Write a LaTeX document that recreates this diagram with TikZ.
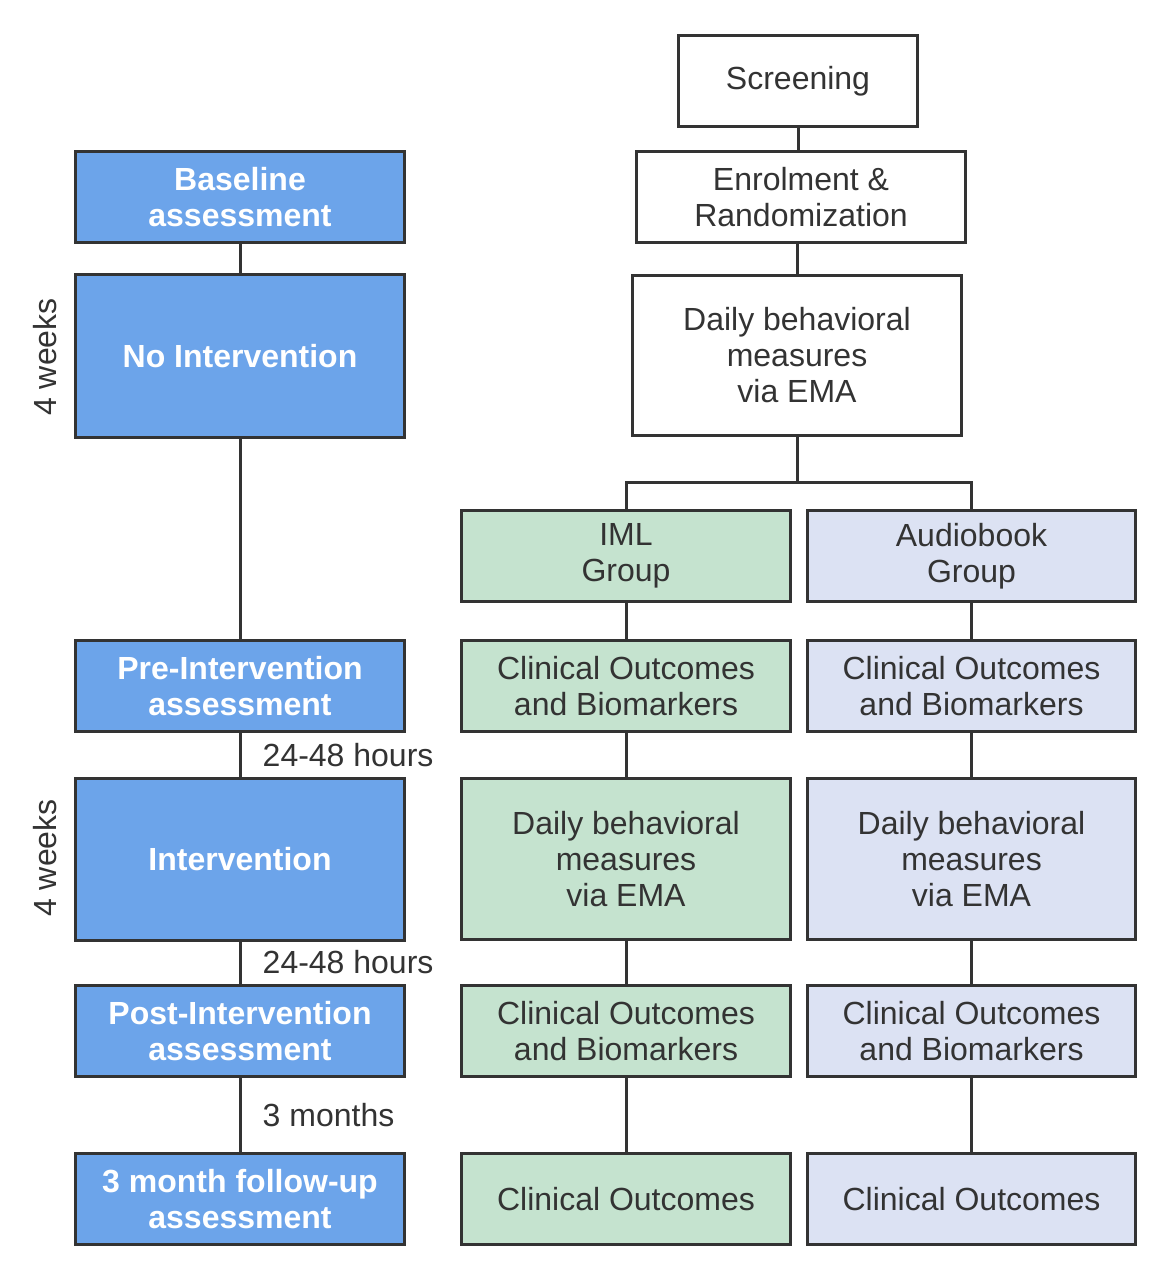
\documentclass[tikz,border=0pt]{standalone}
\usepackage{fontspec}
\setmainfont{Liberation Sans}
\usepackage{xcolor}
\definecolor{stepblue}{HTML}{6CA4EA}
\definecolor{imlgreen}{HTML}{C5E3CF}
\definecolor{audiolav}{HTML}{DCE2F3}
\definecolor{ink}{HTML}{333333}
\usepackage{tikz}
\tikzset{
  box/.style={draw=ink, line width=0.85pt, align=center, inner sep=0pt,
    minimum width=3.28cm, minimum height=0.9cm, text=ink,
    font=\fontsize{9.1}{10.25}\selectfont},
  leftbox/.style={box, fill=stepblue, text=white,
    font=\fontsize{9.1}{10.25}\selectfont\bfseries},
  gap/.style={text=ink, inner sep=0pt, font=\fontsize{9.1}{10.25}\selectfont},
  link/.style={draw=ink, line width=0.85pt}
}

\begin{document}
\begin{tikzpicture}[x=0.01cm, y=-0.01cm]
\useasboundingbox[fill=white] (0,0) rectangle (1169,1280);
% timeline on the left
\node[leftbox] (base) at (240,197) {Baseline\\assessment};
\node[leftbox, minimum height=1.62cm] (noint) at (240,356) {No Intervention};
\node[leftbox] (pre) at (240,686) {Pre-Intervention\\assessment};
\node[leftbox, minimum height=1.61cm] (interv) at (240,859.5) {Intervention};
\node[leftbox] (post) at (240,1031) {Post-Intervention\\assessment};
\node[leftbox] (follow) at (240,1199) {3 month follow-up\\assessment};
\draw[link] (base) -- (noint) -- (pre) -- (interv) -- (post) -- (follow);
\node[gap, rotate=90] (wk1) at (45,357) {4 weeks};
\node[gap, rotate=90] (wk2) at (45,858) {4 weeks};
\node[gap, anchor=west] (hrs1) at (262,755) {24-48 hours};
\node[gap, anchor=west] (hrs2) at (262,962) {24-48 hours};
\node[gap, anchor=west] (mon) at (262,1115) {3 months};
% trial flow
\node[box, minimum width=2.38cm] (screen) at (798,81) {Screening};
\node[box] (enrol) at (801,197) {Enrolment \&\\Randomization};
\node[box, minimum height=1.59cm] (emaTop) at (797,355.5) {Daily behavioral\\measures\\ via EMA};
\draw[link] (screen) -- (screen |- enrol.north);
\draw[link] (enrol.south -| emaTop) -- (emaTop);
\coordinate (split) at (797,483);
\node[box, fill=imlgreen] (iml) at (626,556) {IML\\Group};
\node[box, fill=audiolav] (audio) at (971.5,556) {Audiobook\\Group};
\draw[link] (emaTop) -- (split) -| (iml);
\draw[link] (split) -| (audio);
\foreach \g/\x/\c in {iml/626/imlgreen, audio/971.5/audiolav}{
\node[box, fill=\c] (\g co1) at (\x,686) {Clinical Outcomes\\and Biomarkers};
\node[box, fill=\c, minimum height=1.6cm] (\g ema) at (\x,859) {Daily behavioral\\measures\\ via EMA};
\node[box, fill=\c] (\g co2) at (\x,1031) {Clinical Outcomes\\and Biomarkers};
\node[box, fill=\c] (\g co3) at (\x,1199) {Clinical Outcomes};
\draw[link] (\g) -- (\g co1) -- (\g ema) -- (\g co2) -- (\g co3);
}
\end{tikzpicture}
\end{document}
